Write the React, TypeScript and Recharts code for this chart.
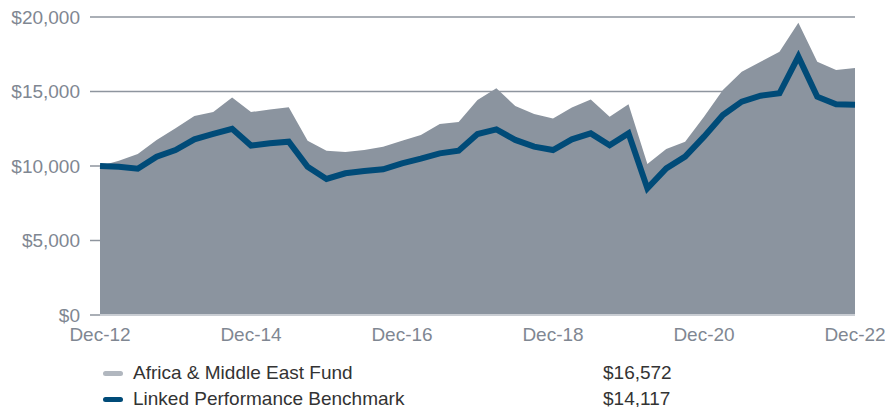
import React from 'react';
import { ComposedChart, Area, Line, XAxis, YAxis, CartesianGrid } from 'recharts';

const quarters = [
  'Dec-12', 'Mar-13', 'Jun-13', 'Sep-13', 'Dec-13', 'Mar-14', 'Jun-14', 'Sep-14',
  'Dec-14', 'Mar-15', 'Jun-15', 'Sep-15', 'Dec-15', 'Mar-16', 'Jun-16', 'Sep-16',
  'Dec-16', 'Mar-17', 'Jun-17', 'Sep-17', 'Dec-17', 'Mar-18', 'Jun-18', 'Sep-18',
  'Dec-18', 'Mar-19', 'Jun-19', 'Sep-19', 'Dec-19', 'Mar-20', 'Jun-20', 'Sep-20',
  'Dec-20', 'Mar-21', 'Jun-21', 'Sep-21', 'Dec-21', 'Mar-22', 'Jun-22', 'Sep-22',
  'Dec-22',
];

const fundValues = [
  10000, 10350, 10800, 11750, 12530, 13350, 13620, 14590, 13620, 13800,
  13940, 11700, 11030, 10940, 11070, 11300, 11700, 12080, 12820, 12950,
  14430, 15210, 14030, 13490, 13180, 13920, 14470, 13310, 14140, 10130,
  11140, 11630, 13310, 15100, 16330, 17000, 17670, 19620, 17000, 16440,
  16572,
];

const benchmarkValues = [
  10000, 9950, 9820, 10630, 11070, 11790, 12150, 12500, 11370, 11520,
  11630, 9950, 9130, 9510, 9660, 9780, 10180, 10490, 10850, 11030,
  12150, 12460, 11750, 11300, 11070, 11790, 12190, 11390, 12190, 8500,
  9840, 10630, 11970, 13420, 14320, 14720, 14880, 17340, 14650, 14140,
  14117,
];

const yTicks = [0, 5000, 10000, 15000, 20000];

const legendItems = [
  { name: 'Africa & Middle East Fund', value: '$16,572', color: '#b1b7bf' },
  { name: 'Linked Performance Benchmark', value: '$14,117', color: '#004b78' },
];

const data = quarters.map((q, i) => ({
  label: q,
  fund: fundValues[i],
  benchmark: benchmarkValues[i],
}));

const FONT = "'Liberation Sans', Arial, Helvetica, sans-serif";
const AXIS_TEXT = '#7f8792';

export default function App() {
  return (
    <div style={{ position: 'absolute', left: 0, top: 0, width: 885, height: 407, fontFamily: FONT, background: '#fff', overflow: 'hidden' }}>
      <ComposedChart
        width={885}
        height={350}
        data={data}
        margin={{ top: 17, right: 30, left: 0, bottom: 0 }}
      >
        <CartesianGrid horizontal={true} vertical={false} stroke="#8e959e" strokeWidth={1.5} />
        <XAxis
          dataKey="label"
          interval={7}
          height={35}
          tickSize={0}
          tickMargin={13}
          tickLine={false}
          axisLine={{ stroke: '#c9cdd3', strokeWidth: 2 }}
          tick={{ fill: AXIS_TEXT, fontSize: 19, fontFamily: FONT }}
        />
        <YAxis
          domain={[0, 20000]}
          ticks={yTicks}
          width={100}
          axisLine={false}
          tickSize={10}
          tickMargin={10}
          tickLine={{ stroke: '#8e959e', strokeWidth: 1.5 }}
          tick={{ fill: AXIS_TEXT, fontSize: 19, fontFamily: FONT }}
          tickFormatter={(v: number) => `$${v.toLocaleString('en-US')}`}
        />
        <Area
          type="linear"
          dataKey="fund"
          fill="#8b949f"
          fillOpacity={1}
          stroke="none"
          isAnimationActive={false}
        />
        <Line
          type="linear"
          dataKey="benchmark"
          stroke="#004b78"
          strokeWidth={6}
          dot={false}
          isAnimationActive={false}
        />
      </ComposedChart>
      {legendItems.map((item, i) => (
        <div
          key={item.name}
          style={{ position: 'absolute', left: 0, top: 360 + i * 26, width: 885, height: 26, lineHeight: '26px', fontSize: 19, color: '#333' }}
        >
          <span style={{ position: 'absolute', left: 103, top: 11, width: 20, height: 5, borderRadius: 3, background: item.color }} />
          <span style={{ position: 'absolute', left: 133 }}>{item.name}</span>
          <span style={{ position: 'absolute', left: 603 }}>{item.value}</span>
        </div>
      ))}
    </div>
  );
}
